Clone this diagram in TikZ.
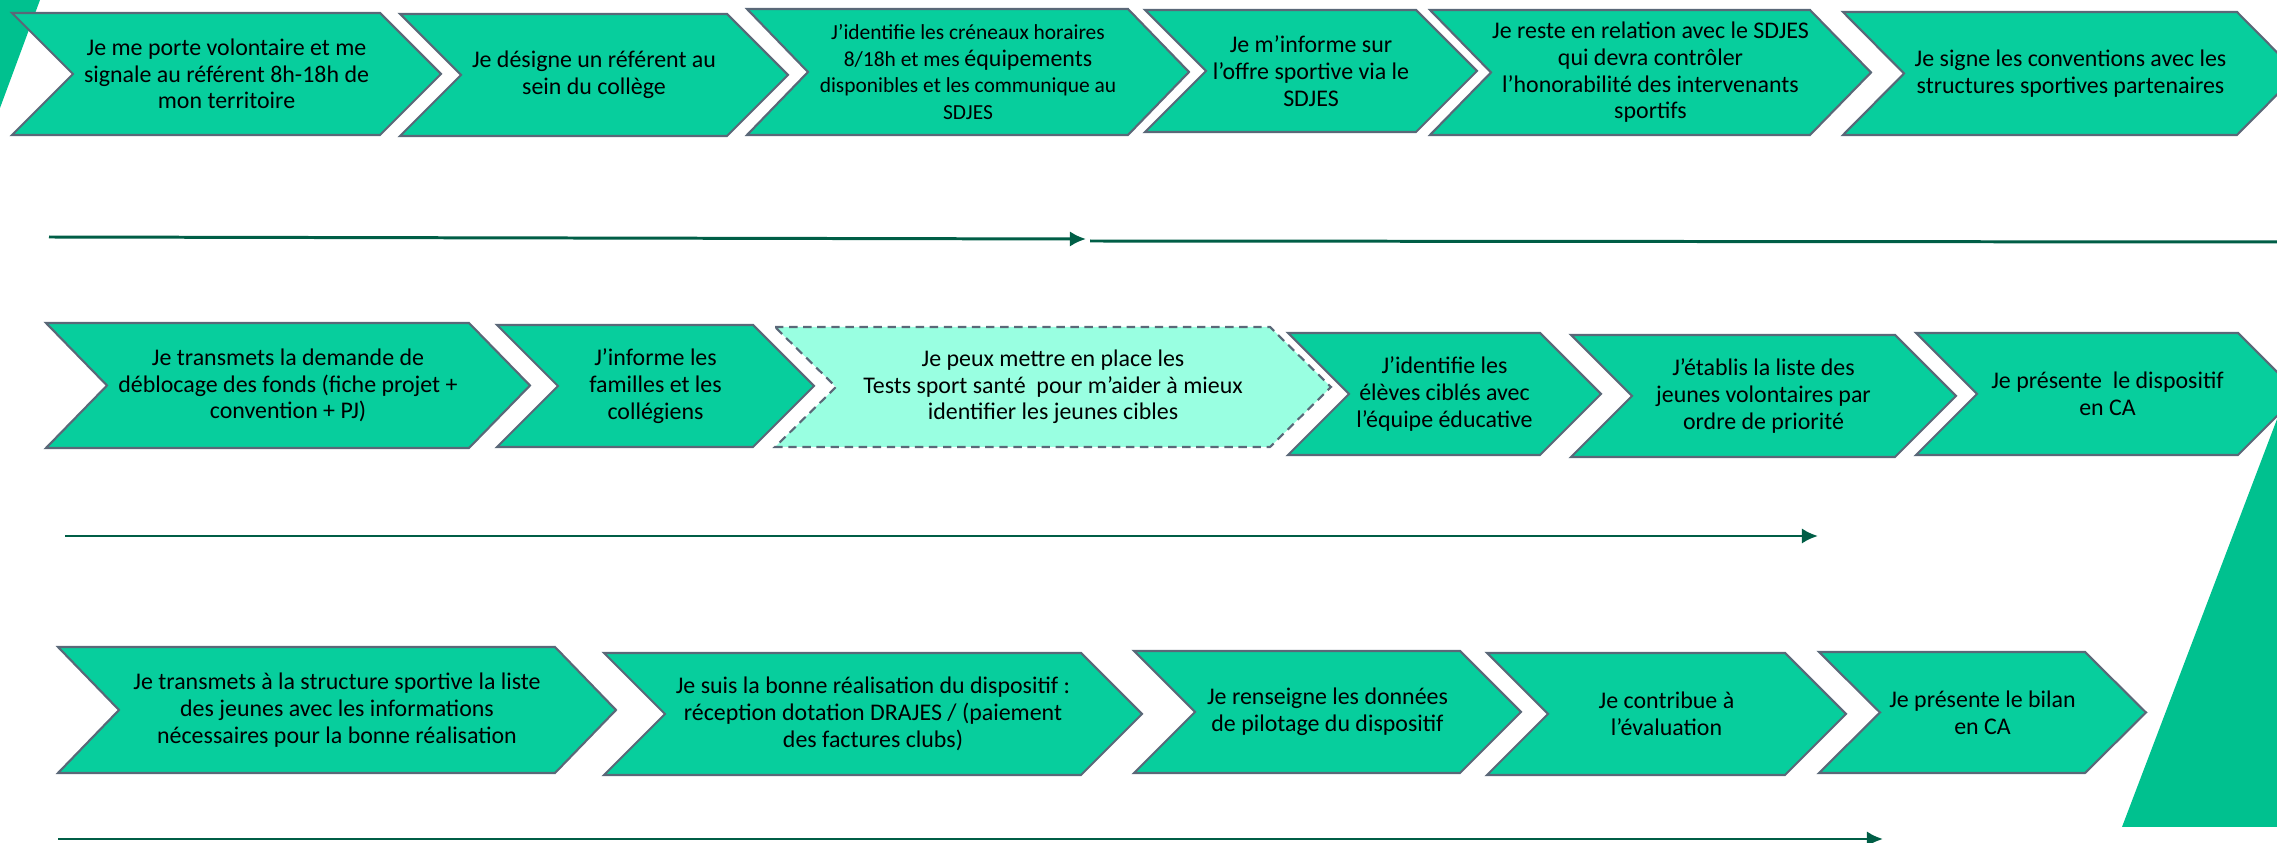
\documentclass[tikz,border=0pt]{standalone}
\usepackage{fontspec}
\setmainfont{Carlito}
\usetikzlibrary{arrows.meta}
\definecolor{vert}{RGB}{7,206,157}
\definecolor{vertclair}{RGB}{153,255,225}
\definecolor{vertfonce}{RGB}{0,193,143}
\definecolor{vertsombre}{RGB}{0,94,70}
\definecolor{contour}{RGB}{90,104,120}
\tikzset{
  etape/.style={fill=vert, draw=contour, line width=0.6pt},
  etapeopt/.style={fill=vertclair, draw=contour, line width=0.6pt, dash pattern=on 2.4pt off 1.6pt},
  etiq/.style={align=center, inner sep=0pt, font=\fontsize{6.8}{7.6}\selectfont},
  trait/.style={draw=vertsombre, line width=0.85pt},
  fleche/.style={trait, -{Latex[length=4.6pt,width=4.4pt]}},
}
\def\dep{61}
\def\petit{\fontsize{6.1}{7.6}\selectfont}
\def\chevron[#1](#2,#3,#4,#5)#6#7{%
  \draw[#1] (#2,#4) -- (#3,#4) -- ({#3+\dep},{(#4+#5)/2}) -- (#3,#5) -- (#2,#5) -- ({#2+\dep},{(#4+#5)/2}) -- cycle;
  \node[etiq] (#6) at ({(#2+#3+\dep)/2},{(#4+#5)/2}) {#7};}

\begin{document}
\begin{tikzpicture}[x=0.01cm, y=-0.01cm]
		%%%%% START %%%%%
		\clip (0,0) rectangle (2277,843);
		
		\fill[vertfonce] (0,0) -- (40,0) -- (0,108) -- cycle;
		\fill[vertfonce] (2122,827) -- (2290,385) -- (2290,827) -- cycle;
		
		% ligne 1
		\chevron[etape](12,380,13,135){porte}{Je me porte volontaire et me\\signale au référent 8h-18h de\\mon territoire}
		\chevron[etape](400,727,14,136){referent}{Je désigne un référent au\\sein du collège}
		\chevron[etape](747,1128,9,135){creneaux}{\petit J’identifie les créneaux horaires\\\petit 8/18h et mes {\fontsize{6.8}{7.6}\selectfont équipements}\\\petit disponibles et les communique au\\\petit SDJES}
		\chevron[etape](1145,1416,10,132){offre}{Je m’informe sur\\l’offre sportive via le\\SDJES}
		\chevron[etape](1430,1810,10,135){relation}{Je reste en relation avec le SDJES\\qui devra contrôler\\l’honorabilité des intervenants\\sportifs}
		\chevron[etape](1843,2237,12,135){conventions}{Je signe les conventions avec les\\structures sportives partenaires}
		
		\coordinate (d1) at (49,237);
		\coordinate (f1) at (1086,239);
		\coordinate (d1b) at (1090,241);
		\coordinate (f1b) at (2277,242);
		\draw[fleche] (d1) -- (f1);
		\draw[trait] (d1b) -- (f1b);
		
		% ligne 2
		\chevron[etape](46,469,323,448){fonds}{Je transmets la demande de\\déblocage des fonds (fiche projet +\\convention + PJ)}
		\chevron[etape](497,753,325,447){familles}{J’informe les\\familles et les\\collégiens}
		\chevron[etapeopt](775,1270,327,447){tests}{Je peux mettre en place les\\Tests sport santé~ pour m’aider à mieux\\identifier les jeunes cibles}
		\chevron[etape](1288,1540,333,455){eleves}{J’identifie les\\élèves ciblés avec\\l’équipe éducative}
		\chevron[etape](1571,1895,335,457){liste}{J’établis la liste des\\jeunes volontaires par\\ordre de priorité}
		\chevron[etape](1916,2238,333,455){presente}{Je présente~ le dispositif\\en CA}
		
		\coordinate (d2) at (65,536);
		\coordinate (f2) at (1818,536);
		\draw[fleche] (d2) -- (f2);
		
		% ligne 3
		\chevron[etape](58,555,647,773){transmets}{Je transmets à la structure sportive la liste\\des jeunes avec les informations\\nécessaires pour la bonne réalisation}
		\chevron[etape](604,1081,653,775){suivi}{Je suis la bonne réalisation du dispositif :\\réception dotation DRAJES / (paiement\\des factures clubs)}
		\chevron[etape](1134,1460,651,773){pilotage}{Je renseigne les données\\de pilotage du dispositif}
		\chevron[etape](1487,1785,653,775){evaluation}{Je contribue à\\l’évaluation}
		\chevron[etape](1819,2085,652,773){bilan}{Je présente le bilan\\en CA}
		
		\coordinate (d3) at (58,839);
		\coordinate (f3) at (1883,839);
		\draw[fleche] (d3) -- (f3);
		
		%%%%% END %%%%%
\end{tikzpicture}
\end{document}
